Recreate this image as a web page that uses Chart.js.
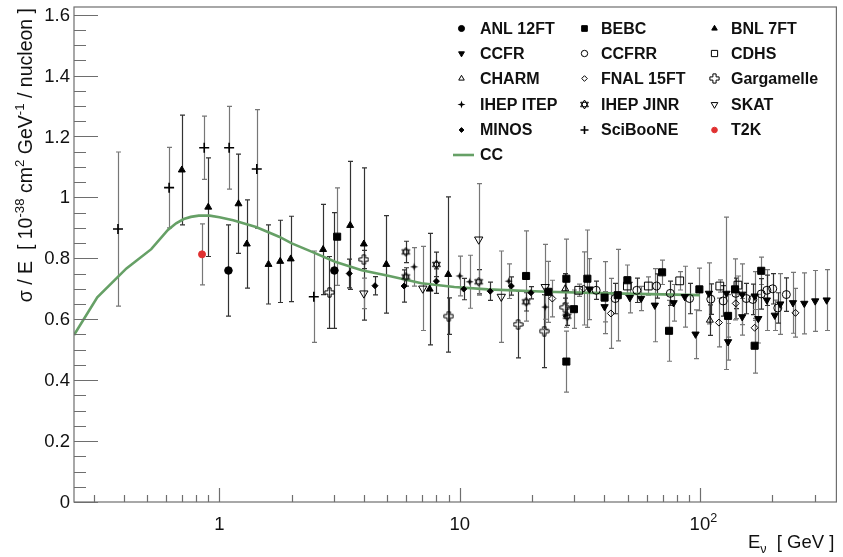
<!DOCTYPE html>
<html>
<head>
<meta charset="utf-8">
<script src="https://cdn.jsdelivr.net/npm/chart.js"></script>
<style>
  html, body { margin: 0; padding: 0; background: #fff; }
  #wrap { width: 843px; height: 557px; }
</style>
</head>
<body>
<div id="wrap"><canvas id="plot"></canvas></div>
<script>
// ---- data (E in GeV, sigma/E in 1e-38 cm2/GeV/nucleon) ----
const anlE = [1.09, 3.01];
const anlY = [0.760, 0.760];
const anlErr = [0.15, 0.19];

const bebcE = [3.09, 18.9, 23.4, 27.8, 27.8, 29.9, 34.0, 40.1, 45.5, 49.9, 69.6, 74.4, 99.5, 131, 140, 169, 180];
const bebcY = [0.871, 0.742, 0.690, 0.733, 0.461, 0.633, 0.733, 0.671, 0.679, 0.728, 0.754, 0.562, 0.698, 0.611, 0.698, 0.513, 0.759];
const bebcErr = [0.16, 0.148, 0.10, 0.13, 0.10, 0.063, 0.16, 0.118, 0.15, 0.05, 0.04, 0.10, 0.07, 0.07, 0.10, 0.09, 0.045];

const bnlE = [0.697, 0.898, 1.20, 1.30, 1.60, 1.79, 1.98, 2.70, 3.50, 3.99, 4.95, 7.50, 8.96];
const bnlY = [1.090, 0.968, 0.979, 0.847, 0.780, 0.790, 0.798, 0.829, 0.908, 0.847, 0.780, 0.699, 0.747];
const bnlErr = [0.18, 0.162, 0.163, 0.145, 0.13, 0.135, 0.14, 0.148, 0.21, 0.25, 0.16, 0.183, 0.255];

const ccfrE = [34.7, 40.1, 51.1, 56.9, 64.9, 77.7, 86.5, 95.9, 109, 129, 131, 150, 150, 169, 175, 190, 205, 216, 244, 272, 302, 337];
const ccfrY = [0.699, 0.641, 0.671, 0.668, 0.646, 0.654, 0.674, 0.551, 0.685, 0.685, 0.526, 0.682, 0.608, 0.676, 0.602, 0.663, 0.613, 0.650, 0.654, 0.652, 0.660, 0.663];
const ccfrErr = [0.10, 0.05, 0.05, 0.04, 0.12, 0.06, 0.10, 0.08, 0.10, 0.25, 0.06, 0.10, 0.06, 0.08, 0.08, 0.10, 0.05, 0.10, 0.10, 0.10, 0.10, 0.10];

const ccfrrE = [37.0, 44.4, 54.6, 66.0, 75.3, 90.6, 111, 125, 141, 156, 166, 180, 190, 201, 211, 229];
const ccfrrY = [0.695, 0.668, 0.695, 0.709, 0.685, 0.668, 0.666, 0.660, 0.685, 0.668, 0.665, 0.683, 0.695, 0.700, 0.637, 0.681];
const ccfrrErr = [0.03, 0.05, 0.04, 0.04, 0.04, 0.05, 0.05, 0.05, 0.05, 0.05, 0.05, 0.05, 0.05, 0.05, 0.05, 0.055];

const cdhsE = [31.3, 49.9, 61.0, 82.4, 121, 144];
const cdhsY = [0.695, 0.709, 0.709, 0.726, 0.709, 0.712];
const cdhsErr = [0.02, 0.03, 0.03, 0.03, 0.02, 0.03];

const charmE = [27.5, 110];
const charmY = [0.700, 0.597];
const charmErr = [0.05, 0.05];

const fnalE = [24.3, 32.8, 42.6, 120, 141, 169, 250];
const fnalY = [0.668, 0.701, 0.619, 0.589, 0.652, 0.572, 0.621];
const fnalErr = [0.06, 0.12, 0.115, 0.08, 0.05, 0.06, 0.08];

const ggmE = [2.87, 3.99, 9.0, 17.5, 22.5, 27.4];
const ggmY = [0.688, 0.796, 0.610, 0.583, 0.561, 0.639];
const ggmErr = [0.118, 0.03, 0.06, 0.11, 0.12, 0.03];

const itepE = [6.46, 10.0, 11.0, 16.0, 22.7, 27.7];
const itepY = [0.772, 0.742, 0.723, 0.725, 0.640, 0.613];
const itepErr = [0.063, 0.065, 0.087, 0.057, 0.04, 0.04];

const jinrE = [5.97, 5.97, 8.0, 12.0, 18.9, 28.0];
const jinrY = [0.821, 0.739, 0.780, 0.723, 0.657, 0.610];
const jinrErr = [0.035, 0.03, 0.04, 0.04, 0.03, 0.03];

const skatE = [3.99, 7.02, 12.0, 14.9, 22.7];
const skatY = [0.685, 0.701, 0.862, 0.674, 0.706];
const skatErr = [0.05, 0.138, 0.183, 0.15, 0.14];

const minosE = [3.47, 4.44, 5.87, 8.0, 10.4, 13.4, 16.4, 19.8];
const minosY = [0.750, 0.710, 0.709, 0.725, 0.699, 0.692, 0.709, 0.687];
const minosErr = [0.047, 0.03, 0.053, 0.04, 0.035, 0.03, 0.03, 0.02];

const sciboneE = [0.378, 0.617, 0.864, 1.097, 1.43, 2.47];
const sciboneY = [0.896, 1.032, 1.163, 1.163, 1.093, 0.674];
const sciboneErr = [0.253, 0.132, 0.104, 0.136, 0.195, 0.15];

const t2kE = [0.846];
const t2kY = [0.813];
const t2kErr = [0.10];

// CC prediction curve
const ccE = [0.248, 0.31, 0.41, 0.52, 0.61, 0.66, 0.71, 0.76, 0.82, 0.91, 1.0, 1.14, 1.42, 1.77, 2.0, 2.43, 3.03, 3.91, 5.04, 6.93, 9.5, 13.1, 23, 43, 100];
const ccY = [0.548, 0.672, 0.767, 0.830, 0.893, 0.915, 0.929, 0.936, 0.940, 0.940, 0.935, 0.925, 0.903, 0.871, 0.849, 0.821, 0.789, 0.761, 0.743, 0.718, 0.706, 0.698, 0.690, 0.685, 0.679];

const yTicks = [0, 0.2, 0.4, 0.6, 0.8, 1, 1.2, 1.4, 1.6];
const yTickLabels = ['0', '0.2', '0.4', '0.6', '0.8', '1', '1.2', '1.4', '1.6'];
const xTicks = [1, 10, 100];
const xTickLabels = [['1', ''], ['10', ''], ['10', '2']];

// ---- custom marker images ----
function makeIcon(size, draw) {
    const c = document.createElement('canvas');
    c.width = size; c.height = size;
    const g = c.getContext('2d');
    g.strokeStyle = '#000';
    g.fillStyle = '#000';
    g.lineWidth = 1;
    draw(g, size / 2);
    return c;
}

// Gargamelle: open cross
const openCross = makeIcon(11, (g, c) => {
    const a = 1.6, b = 4.6;
    const pts = [[-a,-b],[a,-b],[a,-a],[b,-a],[b,a],[a,a],[a,b],[-a,b],[-a,a],[-b,a],[-b,-a],[-a,-a]];
    g.beginPath();
    pts.forEach((p, i) => i ? g.lineTo(c + p[0], c + p[1]) : g.moveTo(c + p[0], c + p[1]));
    g.closePath();
    g.stroke();
});

// IHEP JINR: open star of David
const openStar = makeIcon(11, (g, c) => {
    const r = 4.5;
    [-90, 90].forEach(start => {
        g.beginPath();
        for (let k = 0; k < 3; k++) {
            const ang = (start + k * 120) * Math.PI / 180;
            const x = c + r * Math.cos(ang), y = c + r * Math.sin(ang);
            k ? g.lineTo(x, y) : g.moveTo(x, y);
        }
        g.closePath();
        g.stroke();
    });
});

// IHEP ITEP: small filled star
const fillStar = makeIcon(9, (g, c) => {
    g.beginPath();
    for (let k = 0; k < 8; k++) {
        const r = k % 2 ? 1.3 : 4;
        const ang = (-90 + k * 45) * Math.PI / 180;
        const x = c + r * Math.cos(ang), y = c + r * Math.sin(ang);
        k ? g.lineTo(x, y) : g.moveTo(x, y);
    }
    g.closePath();
    g.fill();
});

const HOLLOW = 'rgba(0,0,0,0)';

function series(label, E, Y, err, style) {
    return Object.assign({
        label: label,
        data: E.map((e, i) => ({ x: e, y: Y[i] })),
        errors: err,
        showLine: false,
        pointBorderColor: '#000',
        pointBackgroundColor: '#000',
        pointBorderWidth: 1,
        pointRotation: 0
    }, style);
}

const datasets = [
    series('T2K', t2kE, t2kY, t2kErr, { pointStyle: 'circle', pointRadius: 3.5, pointBackgroundColor: '#e03030', pointBorderColor: '#e03030' }),
    series('ANL 12FT', anlE, anlY, anlErr, { pointStyle: 'circle', pointRadius: 3.8 }),
    series('BEBC', bebcE, bebcY, bebcErr, { pointStyle: 'rect', pointRadius: 5 }),
    series('BNL 7FT', bnlE, bnlY, bnlErr, { pointStyle: 'triangle', pointRadius: 4 }),
    series('CCFR', ccfrE, ccfrY, ccfrErr, { pointStyle: 'triangle', pointRadius: 4.2, pointRotation: 180 }),
    series('CCFRR', ccfrrE, ccfrrY, ccfrrErr, { pointStyle: 'circle', pointRadius: 4, pointBackgroundColor: HOLLOW }),
    series('CDHS', cdhsE, cdhsY, cdhsErr, { pointStyle: 'rect', pointRadius: 5.5, pointBackgroundColor: HOLLOW }),
    series('CHARM', charmE, charmY, charmErr, { pointStyle: 'triangle', pointRadius: 4, pointBackgroundColor: HOLLOW }),
    series('FNAL 15FT', fnalE, fnalY, fnalErr, { pointStyle: 'rectRot', pointRadius: 3.5, pointBackgroundColor: HOLLOW }),
    series('Gargamelle', ggmE, ggmY, ggmErr, { pointStyle: openCross, pointRadius: 5 }),
    series('IHEP ITEP', itepE, itepY, itepErr, { pointStyle: fillStar, pointRadius: 4 }),
    series('IHEP JINR', jinrE, jinrY, jinrErr, { pointStyle: openStar, pointRadius: 5 }),
    series('SKAT', skatE, skatY, skatErr, { pointStyle: 'triangle', pointRadius: 4.8, pointRotation: 180, pointBackgroundColor: HOLLOW }),
    series('MINOS', minosE, minosY, minosErr, { pointStyle: 'rectRot', pointRadius: 3 }),
    series('SciBooNE', sciboneE, sciboneY, sciboneErr, { pointStyle: 'cross', pointRadius: 5, pointBorderWidth: 1.6 }),
    {
        label: 'CC',
        data: ccE.map((e, i) => ({ x: e, y: ccY[i] })),
        showLine: true,
        borderColor: '#66a066',
        borderWidth: 2.6,
        pointRadius: 0,
        tension: 0
    }
];

const legendOrder = [
    'ANL 12FT', 'BEBC', 'BNL 7FT',
    'CCFR', 'CCFRR', 'CDHS',
    'CHARM', 'FNAL 15FT', 'Gargamelle',
    'IHEP ITEP', 'IHEP JINR', 'SKAT',
    'MINOS', 'SciBooNE', 'T2K'
];

const FONT = '"Liberation Sans", Arial, Helvetica, sans-serif';

// vertical error bars, drawn under the markers
const errorBars = {
    id: 'errorBars',
    beforeDatasetsDraw(chart) {
        const ctx = chart.ctx, xs = chart.scales.x, ys = chart.scales.y, a = chart.chartArea;
        ctx.save();
        ctx.beginPath();
        ctx.rect(a.left, a.top, a.right - a.left, a.bottom - a.top);
        ctx.clip();
        ctx.lineWidth = 1.2;
        chart.data.datasets.forEach((ds, di) => {
            if (!ds.errors) return;
            ctx.strokeStyle = di % 2 ? '#333' : '#777';
            ds.data.forEach((p, i) => {
                const e = ds.errors[i];
                const x = Math.round(xs.getPixelForValue(p.x)) + 0.5;
                const y1 = ys.getPixelForValue(p.y - e);
                const y2 = ys.getPixelForValue(p.y + e);
                ctx.beginPath();
                ctx.moveTo(x, y1); ctx.lineTo(x, y2);
                ctx.moveTo(x - 2.5, y1); ctx.lineTo(x + 2.5, y1);
                ctx.moveTo(x - 2.5, y2); ctx.lineTo(x + 2.5, y2);
                ctx.stroke();
            });
        });
        ctx.restore();
    }
};

function drawRich(ctx, parts, x, y, size) {
    // parts: [text, 'n'|'sup'|'sub']
    let cx = x;
    parts.forEach(p => {
        const small = p[1] !== 'n';
        ctx.font = (small ? size * 0.68 : size) + 'px ' + FONT;
        const dy = p[1] === 'sup' ? -size * 0.42 : (p[1] === 'sub' ? size * 0.25 : 0);
        ctx.fillText(p[0], cx, y + dy);
        cx += ctx.measureText(p[0]).width;
    });
    return cx - x;
}

function richWidth(ctx, parts, size) {
    let w = 0;
    parts.forEach(p => {
        ctx.font = (p[1] !== 'n' ? size * 0.68 : size) + 'px ' + FONT;
        w += ctx.measureText(p[0]).width;
    });
    return w;
}

// ROOT-like frame, inward ticks, labels, titles and legend
const frame = {
    id: 'frame',
    afterDatasetsDraw(chart) {
        const ctx = chart.ctx, xs = chart.scales.x, ys = chart.scales.y, a = chart.chartArea;
        ctx.save();
        ctx.strokeStyle = '#6e6e6e';
        ctx.lineWidth = 1.2;
        ctx.strokeRect(a.left, a.top, a.right - a.left, a.bottom - a.top);

        // y ticks
        ctx.beginPath();
        for (let k = 0; k <= 32; k++) {
            const v = k * 0.05;
            const y = Math.round(ys.getPixelForValue(v)) + 0.5;
            const len = k % 4 === 0 ? 24 : 12;
            ctx.moveTo(a.left, y); ctx.lineTo(a.left + len, y);
        }
        // x ticks
        for (let dec = -1; dec <= 2; dec++) {
            for (let m = 1; m <= 9; m++) {
                const v = m * Math.pow(10, dec);
                if (v < xs.min || v > xs.max) continue;
                const x = Math.round(xs.getPixelForValue(v)) + 0.5;
                const len = m === 1 ? 14 : 7;
                ctx.moveTo(x, a.bottom); ctx.lineTo(x, a.bottom - len);
            }
        }
        ctx.stroke();

        // tick labels
        ctx.fillStyle = '#111';
        ctx.font = '18.5px ' + FONT;
        ctx.textAlign = 'right';
        ctx.textBaseline = 'middle';
        yTicks.forEach((v, i) => ctx.fillText(yTickLabels[i], a.left - 4, ys.getPixelForValue(v) + 1));
        ctx.textAlign = 'left';
        ctx.textBaseline = 'alphabetic';
        xTicks.forEach((v, i) => {
            const parts = [[xTickLabels[i][0], 'n']];
            if (xTickLabels[i][1]) parts.push([xTickLabels[i][1], 'sup']);
            const w = richWidth(ctx, [[xTickLabels[i][0], 'n']], 18.5);
            drawRich(ctx, parts, xs.getPixelForValue(v) - w / 2, 530, 18.5);
        });

        // x title
        const xt = [['E', 'n'], ['\u03bd', 'sub'], ['  [ GeV ]', 'n']];
        drawRich(ctx, xt, a.right - richWidth(ctx, xt, 18.5) - 2, 548, 18.5);

        // y title
        const yt = [['\u03c3 / E  [ 10', 'n'], ['-38', 'sup'], [' cm', 'n'], ['2', 'sup'], [' GeV', 'n'], ['-1', 'sup'], [' / nucleon ]', 'n']];
        ctx.save();
        ctx.translate(32, 8);
        ctx.rotate(-Math.PI / 2);
        drawRich(ctx, yt, -richWidth(ctx, yt, 19.5), 0, 19.5);
        ctx.restore();

        // legend
        const colMark = [461.5, 584.5, 714.5];
        const colText = [480, 601, 731];
        const rowY = [28.5, 53.5, 78.5, 104.5, 130, 155];
        ctx.textBaseline = 'middle';
        legendOrder.forEach((name, i) => {
            const ds = chart.data.datasets.find(d => d.label === name);
            const r = Math.floor(i / 3), c = i % 3;
            ctx.fillStyle = ds.pointBackgroundColor;
            ctx.strokeStyle = ds.pointBorderColor;
            ctx.lineWidth = ds.pointBorderWidth;
            Chart.helpers.drawPoint(ctx, {
                pointStyle: ds.pointStyle,
                radius: ds.pointRadius * 0.8,
                rotation: ds.pointRotation,
                borderWidth: ds.pointBorderWidth
            }, colMark[c], rowY[r]);
            ctx.fillStyle = '#111';
            ctx.font = 'bold 16px ' + FONT;
            ctx.fillText(name, colText[c], rowY[r] + 1);
        });
        const cc = chart.data.datasets.find(d => d.label === 'CC');
        ctx.strokeStyle = cc.borderColor;
        ctx.lineWidth = cc.borderWidth;
        ctx.beginPath();
        ctx.moveTo(453, rowY[5]); ctx.lineTo(474, rowY[5]);
        ctx.stroke();
        ctx.fillStyle = '#111';
        ctx.font = 'bold 16px ' + FONT;
        ctx.fillText('CC', colText[0], rowY[5] + 1);
        ctx.restore();
    }
};

new Chart(document.getElementById('plot'), {
    type: 'scatter',
    data: { datasets: datasets },
    options: {
        responsive: true,
        maintainAspectRatio: false,
        animation: false,
        layout: { padding: { left: 74, right: 2, top: 7, bottom: 55 } },
        scales: {
            x: { type: 'logarithmic', min: 0.248, max: 370, display: false },
            y: { type: 'linear', min: 0, max: 1.625, display: false }
        },
        plugins: {
            legend: { display: false },
            tooltip: { enabled: false }
        }
    },
    plugins: [errorBars, frame]
});
</script>
</body>
</html>
